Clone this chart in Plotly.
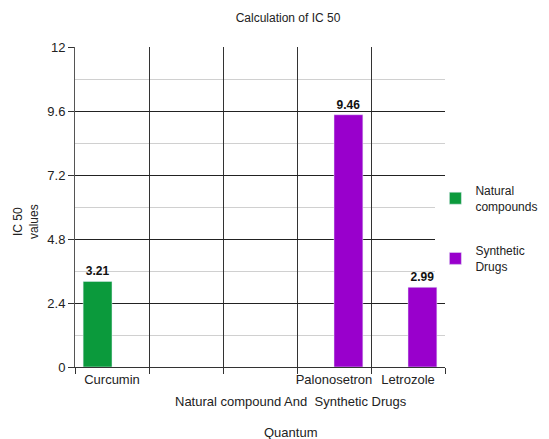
import plotly.graph_objects as go

categories = ["Curcumin", " ", "  ", "Palonosetron", "Letrozole"]
natural_values = [3.21, None, None, None, None]
synthetic_values = [None, None, None, 9.46, 2.99]
y_ticks = [0, 2.4, 4.8, 7.2, 9.6, 12]

GREEN = "#0b9a3c"
PURPLE = "#9900cc"
FONT = "Liberation Sans, Arial, sans-serif"

fig = go.Figure()
fig.add_trace(go.Bar(
    x=categories, y=natural_values, name="Natural<br>compounds",
    marker_color=GREEN, legendgroup="a",
    text=[f"<b>{v}</b>" if v is not None else "" for v in natural_values],
    textposition="outside", textfont=dict(size=12, color="#111"),
    cliponaxis=False,
))
fig.add_trace(go.Bar(
    x=categories, y=synthetic_values, name="Synthetic<br>Drugs",
    marker_color=PURPLE, legendgroup="b",
    text=[f"<b>{v}</b>" if v is not None else "" for v in synthetic_values],
    textposition="outside", textfont=dict(size=12, color="#111"),
    cliponaxis=False,
))

fig.update_layout(
    width=541, height=431,
    margin=dict(l=67, r=104, t=39, b=72, autoexpand=False),
    paper_bgcolor="white", plot_bgcolor="white",
    font=dict(family=FONT, size=12, color="#222"),
    barmode="group", bargap=0.22, bargroupgap=0,
    title=dict(text="Calculation of IC 50", x=0.5176, xanchor="center",
               y=0.977, yanchor="middle", font=dict(size=12, color="#222")),
    showlegend=True,
    legend=dict(xref="container", yref="container", x=0.79, xanchor="left",
                y=0.61, yanchor="top",
                traceorder="grouped", tracegroupgap=26,
                font=dict(size=12, color="#222"), itemwidth=30),
    xaxis=dict(
        type="category", categoryorder="array", categoryarray=categories,
        tickson="boundaries", showgrid=True, gridcolor="#333", gridwidth=1,
        ticks="outside", ticklen=6, tickcolor="#333", tickangle=0,
        showline=True, linecolor="#333", linewidth=1, automargin=False,
        tickfont=dict(size=13, color="#222"),
    ),
    yaxis=dict(
        range=[0, 12], tickvals=y_ticks, ticktext=[str(t) for t in y_ticks],
        showgrid=True, gridcolor="#222", gridwidth=1,
        ticks="outside", ticklen=6, tickcolor="#333",
        showline=True, linecolor="#555", linewidth=1,
        zeroline=False, automargin=False,
        tickfont=dict(size=13, color="#222"),
        minor=dict(dtick=1.2, tick0=0, showgrid=True, gridcolor="#d0d0d0", gridwidth=1),
    ),
    annotations=[
        dict(text="IC 50<br>values", xref="paper", yref="paper",
             x=(26 - 75) / 370, y=(367 - 222) / 320, xanchor="center", yanchor="middle",
             textangle=-90, showarrow=False, font=dict(size=12, color="#222")),
        dict(text="Natural compound And  Synthetic Drugs", xref="paper", yref="paper",
             x=(291 - 75) / 370, y=-(401 - 367) / 320, xanchor="center", yanchor="middle",
             showarrow=False, font=dict(size=13, color="#222")),
        dict(text="Quantum", xref="paper", yref="paper",
             x=(290 - 75) / 370, y=-(432 - 367) / 320, xanchor="center", yanchor="middle",
             showarrow=False, font=dict(size=13, color="#222")),
    ],
)

fig.write_html("out.html")
